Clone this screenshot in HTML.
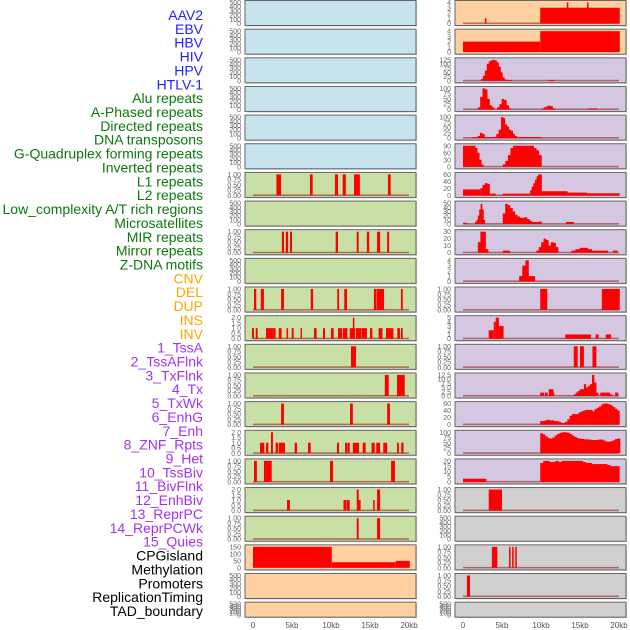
<!DOCTYPE html>
<html><head><meta charset="utf-8"><style>
html,body{margin:0;padding:0;background:#fff;}
svg{display:block;font-family:"Liberation Sans",sans-serif;}
</style></head><body>
<svg id="chart" width="630" height="630" viewBox="0 0 630 630"></svg>
<script>
const NS="http://www.w3.org/2000/svg";
const svg=document.getElementById('chart');

// ---- data ----
const labelsBlue=["AAV2","EBV","HBV","HIV","HPV","HTLV-1"];
const labelsGreen=["Alu repeats","A-Phased repeats","Directed repeats","DNA transposons","G-Quadruplex forming repeats","Inverted repeats","L1 repeats","L2 repeats","Low_complexity A/T rich regions","Microsatellites","MIR repeats","Mirror repeats","Z-DNA motifs"];
const labelsOrange=["CNV","DEL","DUP","INS","INV"];
const labelsPurple=["1_TssA","2_TssAFlnk","3_TxFlnk","4_Tx","5_TxWk","6_EnhG","7_Enh","8_ZNF_Rpts","9_Het","10_TssBiv","11_BivFlnk","12_EnhBiv","13_ReprPC","14_ReprPCWk","15_Quies"];
const labelsBlack=["CPGisland","Methylation","Promoters","ReplicationTiming","TAD_boundary"];
const xTicks=[0,5,10,15,20];
const xTickLabels=["0","5kb","10kb","15kb","20kb"];

const ticksEmpty=[0,100,200,300,400,500];
const ticksUnit=[0,0.25,0.5,0.75,1];
const ticksTwo=[0,0.5,1,1.5,2];

// right-hand panels: segments [startKb,endKb,value] and histograms
const r0Segs=[[9.9,20.1,3],[13.3,13.5,4],[15.9,16.1,4],[2.8,3.0,1]];
const r1Segs=[[0,9.9,2],[9.9,20.1,4]];
const r2Hist=[10,30,60,100,115,122,125,122,110,85,50,20,8];
const r2Segs=[[5.5,6.3,5],[11.0,11.7,5]];
const r3HistA=[10,60,100,95,50,20,10];
const r3HistB=[10,25,50,45,20,5];
const r3HistC=[5,10,15,18,15,5];
const r3Segs=[[16,17.2,5]];
const r4Segs=[[1.2,10.1,5]];
const r4HistA=[10,25,20,5];
const r4HistB=[20,40];
const r4HistC=[100,95,65,55,40,35,20,10];
const r5HistA=[100,100,100,100,95,90,80,60,30,10];
const r5HistB=[10,25,50,80,95,100,100,95,100,100,95,90,80,70,50];
const r6Segs=[[0,2.2,17],[3.0,4.2,5],[5.1,8.6,5],[10.1,13.4,12],[13.4,15.9,8],[15.9,20.1,6]];
const r6HistA=[20,30,35,33];
const r6HistB=[15,25,35,45,55,65,72];
const r7Segs=[[0,0.5,3],[13.2,14.2,5]];
const r7HistA=[5,10,20,35,48,35,10];
const r7HistB=[25,48,45,38,30,22,18,15,15,16,12,8,5,5,5,6];
const r8Segs=[[5.1,6.0,3],[19.2,19.8,3]];
const r8HistA=[15,35,35,5];
const r8HistB=[3,8,15,20,18,10,15,14,8];
const r8HistC=[3,5,7,7,5,3,3,3,3];
const r9Hist=[1,3,4,1,1];
const r10Segs=[[9.9,10.8,1],[17.8,20.1,1]];
const r11Segs=[[3.3,3.95,2],[3.95,4.2,4],[4.2,4.6,5],[4.6,5.2,3],[13.1,16.4,1],[17.0,17.4,1],[18.3,19.0,1]];
const r12Segs=[[14.2,14.7,1],[15.0,15.5,1],[16.6,17.1,1]];
const r13Segs=[[9.9,10.4,2],[10.5,10.85,2],[11.0,11.6,4],[11.6,11.7,2],[19.5,19.9,2]];
const r13HistA=[1,2,3,4,4,7,5,6,7,12.5,8,2];
const r13HistB=[2,2,2,2,1];
const r14Hist=[10,10,12,14,12,12,10,10,8,5,5,8,15,25,30,30,30,35,38,40,42,42,42,38,44,48,52,58,60,60,58,55,50,45,40];
const r15Hist=[95,90,80,72,70,75,85,92,98,100,100,98,92,85,78,72,70,68,66,66,65,63,63,63,65,65,60,55,55,57,62,68,70];
const r16Segs=[[0,3,3]];
const r16Hist=[18,20,20,19,19,20,19,22,22,22,21,22,21,20,19,18,18,17,17,17,17,17,16,15,15,15];
const r17Segs=[[3.3,5.0,1]];
const r19Segs=[[3.7,4.4,1],[5.9,6.1,1],[6.3,6.5,1],[6.7,6.9,1]];
const r20Segs=[[0.5,0.9,1]];

// left-hand panels
const l6Segs=[[3.0,3.6,1],[7.3,7.65,1],[10.5,10.9,1],[11.5,11.9,1],[12.95,13.7,1],[17.3,17.65,1]];
const l8Segs=[[3.7,3.97,1],[4.2,4.5,1],[4.75,5.0,1],[10.6,10.9,1],[13.3,13.55,1],[14.6,14.9,1],[15.9,16.3,1],[17.2,17.45,1]];
const l10Segs=[[0.13,0.42,1],[1.0,1.4,1],[3.6,3.97,1],[7.4,7.7,1],[10.8,11.03,1],[11.7,12.05,1],[15.5,15.8,1],[15.85,16.8,1],[18.97,19.2,1]];
const l11Segs=[[-0.13,0.12,1],[0.35,0.6,1],[1.67,2.65,1],[2.65,2.9,1],[3.3,3.67,1],[4.3,4.5,1],[4.96,5.21,1],[6.1,6.28,1],[7.82,8.16,1],[8.97,9.23,1],[10.0,10.34,1],[10.9,11.4,1],[11.5,12.1,1],[12.4,13.1,1],[12.8,13.0,2],[13.2,13.85,1],[13.9,14.6,1],[15.0,15.3,1],[16.1,16.6,1],[17.05,18.0,1],[18.5,18.85,1],[18.97,19.2,1]];
const l12Segs=[[12.56,13.2,1]];
const l13Segs=[[16.9,17.4,1],[18.46,19.45,1]];
const l14Segs=[[3.6,3.97,1],[12.44,12.8,1],[17.2,17.56,1]];
const l15Segs=[[0.9,1.45,1],[1.67,1.97,1],[2.3,2.56,2],[2.9,3.2,1],[3.3,4.1,1],[5.34,5.64,1],[7.05,7.4,1],[10.77,11.03,1],[11.8,12.05,1],[12.1,12.4,1],[12.8,13.6,1],[14.07,14.44,1],[15.2,15.6,1],[15.8,16.3,1],[16.7,17.2,1],[18.46,18.7,1],[19.0,19.3,1]];
const l16Segs=[[0.13,0.5,1],[1.4,2.4,1],[9.87,10.26,1],[17.7,18.2,1]];
const l17Segs=[[4.36,4.74,1],[11.6,12.0,1],[12.05,12.4,1],[13.3,13.55,2],[13.5,13.8,1],[15.4,15.6,1],[15.9,16.3,2]];
const l18Segs=[[13.3,13.55,1],[15.9,16.3,1]];
const l19Segs=[[0,10.1,150],[10.1,18.3,40],[18.3,20.1,50]];

// ---- helpers ----
const BG={blue:"#c7e3ec",green:"#c8e0a5",peach:"#ffd0a0",purple:"#d5c6e2",grey:"#d0d0d0"};
function el(tag,attrs,parent){const e=document.createElementNS(NS,tag);for(const k in attrs)e.setAttribute(k,attrs[k]);(parent||svg).appendChild(e);return e;}
function rowTop(i){return 0.5+i*28.65;}
function rowH(i){return i===21?15:25;}
function xScale(side){const x0=side==='L'?253:463;return kb=>x0+kb*7.8;}
function yScale(i,ymax){const t=rowTop(i),h=rowH(i);return v=>t+h-2-(v/ymax)*(h-4);}
function fmt(v,dec){return v.toFixed(dec);}

function drawPanel(i,side,bg,ticks,dec,segs,hists,baseline){
  const g=el('g',{});
  
  
  const px=side==='L'?245:455, t=rowTop(i), h=rowH(i);
  el('rect',{x:px+1,y:t+1,width:171,height:h,fill:'#9a9a9a',opacity:0.5},g);
  el('rect',{x:px,y:t,width:171,height:h,fill:BG[bg],stroke:'#666',"stroke-width":1},g);
  const xs=xScale(side), ymax=ticks[ticks.length-1], ys=yScale(i,ymax);
  const tx=side==='L'?241:451;
  ticks.forEach(v=>{
    const tt=el('text',{x:tx,y:ys(v)+2.5,"text-anchor":"end","font-size":"7",fill:"#666"},g);
    
    
    tt.textContent=fmt(v,dec);
  });
  if(baseline){
    const b=el('rect',{x:xs(0),y:ys(0)-1,width:xs(20)-xs(0),height:1.6,fill:'rgba(150,20,20,0.55)'},g);
    
    
  }
  segs.forEach(s=>{
    const y=ys(Math.min(s[2],ymax));
    const r=el('rect',{x:xs(s[0]),y:y,width:Math.max(0.8,xs(s[1])-xs(s[0])),height:ys(0)-y,fill:'#ff0000'},g);
    
    
  });
  hists.forEach(hd=>{
    const vals=hd[2];
    vals.forEach((v,k)=>{
      const a=hd[0]+k*hd[1], y=ys(Math.min(v,ymax));
      const r=el('rect',{x:xs(a),y:y,width:xs(a+hd[1])-xs(a)+0.3,height:ys(0)-y,fill:'#ff0000'},g);
      
      
    });
  });
}

// ---- labels ----
const groups=[[labelsBlue,"#1f1fff"],[labelsGreen,"#0c780c"],[labelsOrange,"#ffa500"],[labelsPurple,"#a233f0"],[labelsBlack,"#000000"]];
let li=0;
groups.forEach(gp=>{gp[0].forEach(name=>{
  const t=el('text',{x:203,y:20+li*13.86,"text-anchor":"end","font-size":"14",fill:gp[1]});
  
  
  t.textContent=name;li++;
});});

// ---- left panels ----
for(let i=0;i<6;i++) drawPanel(i,'L','blue',ticksEmpty,0,[],[],false);
drawPanel(6,'L','green',ticksUnit,2,l6Segs,[],true);
drawPanel(7,'L','green',ticksEmpty,0,[],[],false);
drawPanel(8,'L','green',ticksUnit,2,l8Segs,[],true);
drawPanel(9,'L','green',ticksEmpty,0,[],[],false);
drawPanel(10,'L','green',ticksUnit,2,l10Segs,[],true);
drawPanel(11,'L','green',ticksTwo,1,l11Segs,[],true);
drawPanel(12,'L','green',ticksUnit,2,l12Segs,[],true);
drawPanel(13,'L','green',ticksUnit,2,l13Segs,[],true);
drawPanel(14,'L','green',ticksUnit,2,l14Segs,[],true);
drawPanel(15,'L','green',ticksTwo,1,l15Segs,[],true);
drawPanel(16,'L','green',ticksUnit,2,l16Segs,[],true);
drawPanel(17,'L','green',ticksTwo,1,l17Segs,[],true);
drawPanel(18,'L','green',ticksUnit,2,l18Segs,[],true);
drawPanel(19,'L','peach',[0,50,100,150],0,l19Segs,[],false);
drawPanel(20,'L','peach',ticksEmpty,0,[],[],false);
drawPanel(21,'L','peach',ticksEmpty,0,[],[],false);

// ---- right panels ----
drawPanel(0,'R','peach',[0,1,2,3,4],0,r0Segs,[],true);
drawPanel(1,'R','peach',[0,1,2,3,4],0,r1Segs,[],false);
drawPanel(2,'R','purple',[0,25,50,75,100,125],0,r2Segs,[[2.3,0.25,r2Hist]],true);
drawPanel(3,'R','purple',[0,25,50,75,100],0,r3Segs,[[1.9,0.3,r3HistA],[4.36,0.3,r3HistB],[10.1,0.28,r3HistC]],true);
drawPanel(4,'R','purple',[0,25,50,75,100],0,r4Segs,[[1.9,0.28,r4HistA],[4.27,0.3,r4HistB],[4.87,0.25,r4HistC]],true);
drawPanel(5,'R','purple',[0,30,60,90],0,[],[[0,0.26,r5HistA],[5.1,0.33,r5HistB]],true);
drawPanel(6,'R','purple',[0,20,40,60],0,r6Segs,[[2.2,0.3,r6HistA],[8.6,0.21,r6HistB]],true);
drawPanel(7,'R','purple',[0,10,20,30,40,50],0,r7Segs,[[1.54,0.18,r7HistA],[5.1,0.31,r7HistB]],true);
drawPanel(8,'R','purple',[0,10,20,30],0,r8Segs,[[1.9,0.33,r8HistA],[9.4,0.31,r8HistB],[13.9,0.52,r8HistC]],true);
drawPanel(9,'R','purple',[0,1,2,3,4],0,[],[[7.2,0.4,r9Hist]],true);
drawPanel(10,'R','purple',ticksUnit,2,r10Segs,[],true);
drawPanel(11,'R','purple',[0,1,2,3,4,5],0,r11Segs,[],true);
drawPanel(12,'R','purple',ticksUnit,2,r12Segs,[],true);
drawPanel(13,'R','purple',[0,2.5,5,7.5,10,12.5],1,r13Segs,[[14.2,0.26,r13HistA],[17.6,0.3,r13HistB]],true);
drawPanel(14,'R','purple',[0,20,40,60],0,[],[[9.9,0.29,r14Hist]],true);
drawPanel(15,'R','purple',[0,25,50,75,100],0,[],[[9.9,0.31,r15Hist]],true);
drawPanel(16,'R','purple',[0,5,10,15,20],0,r16Segs,[[9.9,0.39,r16Hist]],true);
drawPanel(17,'R','grey',ticksUnit,2,r17Segs,[],true);
drawPanel(18,'R','grey',ticksEmpty,0,[],[],false);
drawPanel(19,'R','grey',ticksUnit,2,r19Segs,[],true);
drawPanel(20,'R','grey',ticksUnit,2,r20Segs,[],true);
drawPanel(21,'R','grey',ticksEmpty,0,[],[],false);

// ---- x axes ----
['L','R'].forEach(side=>{
  const xs=xScale(side);
  xTicks.forEach((k,j)=>{
    const t=el('text',{x:xs(k),y:628,"text-anchor":"middle","font-size":"8",fill:"#555"});
    
    
    t.textContent=xTickLabels[j];
  });
});
</script>
</body></html>
